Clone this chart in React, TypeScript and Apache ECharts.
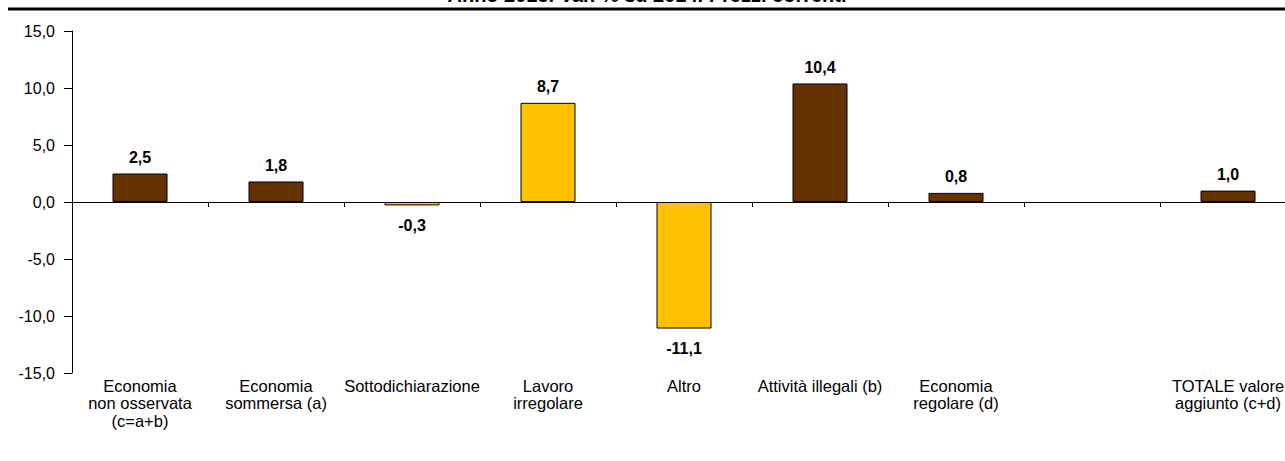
import React, { useEffect, useRef } from "react";
import * as echarts from "echarts";

const categories = [
  "Economia\nnon osservata\n(c=a+b)",
  "Economia\nsommersa (a)",
  "Sottodichiarazione",
  "Lavoro\nirregolare",
  "Altro",
  "Attività illegali (b)",
  "Economia\nregolare (d)",
  "",
  "TOTALE valore\naggiunto (c+d)",
];
const values: (number | null)[] = [2.5, 1.8, -0.3, 8.7, -11.1, 10.4, 0.8, null, 1.0];
const colorKeys = ["brown", "brown", "yellow", "yellow", "yellow", "brown", "brown", "brown", "brown"];
const palette: Record<string, string> = { brown: "#663300", yellow: "#FFC000" };
const titleText = "Anno 2015. Var. % su 2014. Prezzi correnti";
const yTicks = { min: -15, max: 15, interval: 5 };

const FONT = "'Liberation Sans', Arial, sans-serif";
const fmt = (v: number) => v.toFixed(1).replace(".", ",");

export default function App() {
  const ref = useRef<HTMLDivElement>(null);
  useEffect(() => {
    if (!ref.current) return;
    const chart = echarts.init(ref.current, undefined, { renderer: "svg" });
    chart.setOption({
      animation: false,
      backgroundColor: "#ffffff",
      textStyle: { fontFamily: FONT },
      graphic: [
        {
          type: "text",
          x: 647,
          y: 4.8,
          style: {
            text: titleText,
            font: `bold 20px ${FONT}`,
            fill: "#000",
            align: "center",
            verticalAlign: "bottom",
            lineHeight: 20,
          },
        },
        {
          type: "line",
          shape: { x1: 8, y1: 9, x2: 1300, y2: 9 },
          style: { stroke: "#000", lineWidth: 3 },
        },
      ],
      grid: { left: 72, top: 31, width: 1224, height: 342, containLabel: false },
      xAxis: [
        {
          type: "category",
          data: categories,
          axisLine: { onZero: true, lineStyle: { color: "#000", width: 1 } },
          axisTick: { show: true, length: 5, inside: false, lineStyle: { color: "#000" } },
          axisLabel: { show: false },
          splitLine: { show: false },
        },
        {
          type: "category",
          data: categories,
          position: "bottom",
          axisLine: { show: false, onZero: false },
          axisTick: { show: false },
          axisLabel: {
            show: true,
            interval: 0,
            margin: 4,
            color: "#000",
            fontSize: 16.5,
            lineHeight: 17.5,
            fontFamily: FONT,
          },
          splitLine: { show: false },
        },
      ],
      yAxis: {
        type: "value",
        min: yTicks.min,
        max: yTicks.max,
        interval: yTicks.interval,
        axisLine: { show: true, lineStyle: { color: "#000", width: 1 } },
        axisTick: { show: true, length: 8, lineStyle: { color: "#000" } },
        axisLabel: { color: "#000", fontSize: 16, margin: 17, fontFamily: FONT, formatter: (v: number) => fmt(v) },
        splitLine: { show: false },
      },
      series: [
        {
          type: "bar",
          xAxisIndex: 0,
          barWidth: 55,
          data: values.map((v, i) =>
            v === null
              ? null
              : {
                  value: v,
                  itemStyle: { color: palette[colorKeys[i]], borderColor: "#000", borderWidth: 1 },
                  label: {
                    show: true,
                    position: v < 0 ? "bottom" : "top",
                    distance: v < 0 ? 12 : 8,
                    formatter: () => fmt(v),
                    color: "#000",
                    fontWeight: "bold",
                    fontSize: 16,
                    fontFamily: FONT,
                  },
                }
          ),
        },
      ],
    });
    return () => chart.dispose();
  }, []);
  return (
    <div style={{ position: "fixed", left: 0, top: 0, width: 1285, height: 461, overflow: "hidden", background: "#fff" }}>
      <div ref={ref} style={{ width: 1300, height: 461 }} />
    </div>
  );
}
